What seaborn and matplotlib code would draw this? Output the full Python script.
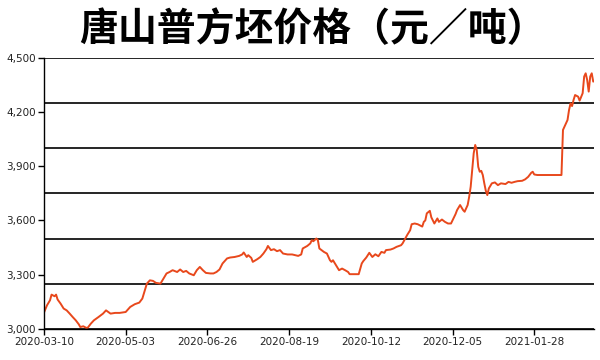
import pandas as pd
import numpy as np
import matplotlib
matplotlib.use("Agg")
import matplotlib.pyplot as plt
import matplotlib.dates as mdates
from matplotlib.ticker import MultipleLocator, FuncFormatter
import seaborn as sns

# ---- data ----
start_date = "2020-03-10"
day_offsets = [
    0, 2, 4, 5, 7, 8, 9, 11, 13, 15, 17, 19, 21, 23, 24, 26, 28, 29, 31, 33,
    36, 39, 41, 44, 47, 50, 54, 57, 60, 63, 65, 66, 68, 70, 72, 74, 77, 79, 81, 83,
    85, 88, 90, 92, 94, 96, 99, 101, 103, 105, 107, 110, 112, 114, 116, 118, 121, 123, 126, 129,
    131, 132, 134, 135, 137, 138, 141, 143, 145, 147, 148, 150, 152, 154, 156, 158, 161, 164, 166, 168,
    170, 171, 174, 176, 177, 178, 180, 181, 182, 185, 187, 189, 190, 191, 193, 195, 197, 199, 201, 202,
    204, 207, 208, 210, 211, 213, 215, 217, 219, 221, 223, 225, 226, 229, 231, 233, 236, 237, 240, 242,
    243, 245, 247, 250, 251, 252, 253, 255, 256, 258, 260, 261, 263, 265, 267, 269, 272, 273, 275, 277,
    278, 280, 281, 282, 283, 284, 285, 286, 287, 288, 289, 290, 291, 292, 293, 294, 296, 298, 300, 302,
    305, 307, 309, 311, 313, 316, 318, 320, 322, 323, 324, 326, 329, 333, 338, 342, 343, 345, 346, 347,
    348, 349, 350, 351, 353, 354, 356, 357, 358, 359, 360, 361, 362, 363,
]
prices = [
    3091, 3131, 3159, 3190, 3181, 3190, 3163, 3140, 3113, 3103, 3085, 3066, 3048, 3026, 3011, 3015, 3006, 3008, 3030, 3048,
    3066, 3085, 3103, 3085, 3089, 3089, 3094, 3122, 3137, 3146, 3168, 3196, 3251, 3269, 3266, 3255, 3251, 3279, 3307, 3315,
    3325, 3315, 3329, 3315, 3321, 3307, 3297, 3325, 3343, 3325, 3310, 3307, 3307, 3315, 3329, 3362, 3390, 3395, 3398, 3404,
    3412, 3423, 3398, 3408, 3393, 3371, 3386, 3398, 3417, 3441, 3459, 3436, 3441, 3430, 3436, 3417, 3412, 3412, 3408, 3404,
    3412, 3445, 3459, 3473, 3491, 3485, 3500, 3491, 3445, 3426, 3417, 3380, 3371, 3380, 3352, 3325, 3334, 3325, 3315, 3303,
    3303, 3303, 3303, 3362, 3375, 3395, 3421, 3398, 3413, 3402, 3426, 3421, 3436, 3439, 3445, 3454, 3463, 3473, 3519, 3546,
    3579, 3583, 3579, 3566, 3592, 3600, 3639, 3653, 3617, 3583, 3611, 3592, 3605, 3592, 3583, 3583, 3635, 3657, 3685, 3657,
    3648, 3685, 3730, 3786, 3878, 3971, 4017, 3989, 3896, 3869, 3874, 3851, 3805, 3764, 3740, 3777, 3805, 3810, 3795, 3805,
    3801, 3813, 3808, 3813, 3817, 3819, 3827, 3841, 3863, 3869, 3854, 3851, 3851, 3851, 3851, 3851, 4100, 4137, 4155, 4210,
    4247, 4232, 4266, 4293, 4284, 4262, 4303, 4395, 4413, 4376, 4312, 4395, 4413, 4367,
]
x_tick_labels = ["2020-03-10", "2020-05-03", "2020-06-26", "2020-08-19",
                 "2020-10-12", "2020-12-05", "2021-01-28"]
y_ticks = [3000, 3300, 3600, 3900, 4200, 4500]
title = "唐山普方坯价格（元／吨）"

df = pd.DataFrame({
    "date": pd.Timestamp(start_date) + pd.to_timedelta(day_offsets, unit="D"),
    "price": prices,
})

sns.set_theme(style="white")
plt.rcParams["font.family"] = ["DejaVu Sans", "Noto Sans CJK SC"]

fig = plt.figure(figsize=(6.0, 3.6), dpi=100)
ax = fig.add_axes([0.0733, 0.0861, 0.9167, 0.754])

sns.lineplot(data=df, x="date", y="price", ax=ax, color="#E8481C", linewidth=1.4)

ax.set_xlim(pd.Timestamp(start_date), pd.Timestamp(start_date) + pd.Timedelta(days=363.5))
ax.set_ylim(3000, 4500)

ax.set_xticks(pd.to_datetime(x_tick_labels))
ax.xaxis.set_major_formatter(mdates.DateFormatter("%Y-%m-%d"))
ax.set_yticks(y_ticks)
ax.yaxis.set_major_formatter(FuncFormatter(lambda v, p: f"{int(v):,}"))
ax.yaxis.set_minor_locator(MultipleLocator(250))
ax.yaxis.remove_overlapping_locs = False

ax.grid(False)
ax.grid(True, which="minor", axis="y", color="black", linewidth=1.2)
ax.tick_params(axis="both", which="major", direction="out", length=4, width=1,
               color="black", labelsize=7.5, labelcolor="#222222", pad=2)
ax.tick_params(axis="y", which="minor", length=0)
ax.tick_params(axis="x", which="major", bottom=True)
ax.tick_params(axis="y", which="major", left=True)

for s in ["top", "right"]:
    ax.spines[s].set_visible(False)
for s in ["left", "bottom"]:
    ax.spines[s].set_color("black")
    ax.spines[s].set_linewidth(1.0)

ax.set_xlabel("")
ax.set_ylabel("")

fig.text(0.52, 0.918, title, ha="center", va="center", fontsize=28,
         fontweight="bold", family=["Noto Sans CJK SC", "DejaVu Sans"], color="black")

fig.savefig("out.png", dpi=100, facecolor="white")
